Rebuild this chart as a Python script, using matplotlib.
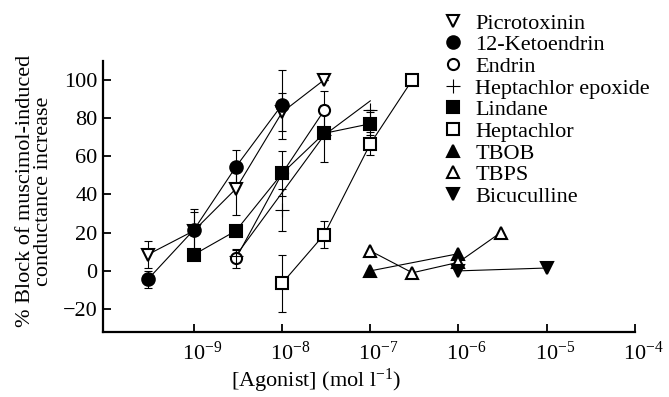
import matplotlib
matplotlib.use("Agg")
import matplotlib.pyplot as plt
import matplotlib.transforms as mtransforms
from matplotlib.ticker import FixedLocator, LogFormatterMathtext

plt.rcParams['font.family'] = ['Liberation Serif', 'DejaVu Serif']
plt.rcParams['mathtext.fontset'] = 'custom'
plt.rcParams['mathtext.rm'] = 'Liberation Serif'
plt.rcParams['mathtext.it'] = 'Liberation Serif:italic'
plt.rcParams['mathtext.bf'] = 'Liberation Serif:bold'

# ---- data (concentration in mol l-1, % block) ----
picro_x = [3e-10, 1e-9, 3e-9, 1e-8, 3e-8]
picro_y = [8.5, 21, 43, 83, 100]
picro_err = [7, 10, 14, 10, 0]

keto_x = [3e-10, 1e-9, 3e-9, 1e-8]
keto_y = [-4.5, 21.5, 54.5, 87]
keto_err = [4.5, 11, 9, 18]

endrin_x = [3e-9, 1e-8, 3e-8]
endrin_y = [6.5, 51, 84]
endrin_err = [5, 0, 10]

hepo_x = [3e-9, 1e-8, 3e-8, 1e-7]
hepo_y = [8, 32, 71, 84]
hepo_err = [3, 11, 0, 0]
hepo_line_x = [3e-9, 3e-8, 1e-7]
hepo_line_y = [8, 71, 89]

lindane_x = [1e-9, 3e-9, 1e-8, 3e-8, 1e-7]
lindane_y = [8.5, 21, 51, 72, 77]
lindane_err = [0, 0, 12, 15, 6]

hept_x = [1e-8, 3e-8, 1e-7, 3e-7]
hept_y = [-6.5, 19, 66.5, 100]
hept_err = [15, 7, 6, 0]

tbob_x = [1e-7, 1e-6]
tbob_y = [0, 9]

tbps_x = [1e-7, 3e-7, 1e-6, 3e-6]
tbps_y = [10.5, -1, 4.5, 20]

bic_x = [1e-6, 1e-5]
bic_y = [0, 1.5]

x_ticks = [1e-9, 1e-8, 1e-7, 1e-6, 1e-5, 1e-4]
y_ticks = [-20, 0, 20, 40, 60, 80, 100]

# ---- figure ----
fig = plt.figure(figsize=(6.69, 3.97), dpi=100)
ax = fig.add_axes([0.154, 0.1637, 0.795, 0.6833])

series = [
    ("Picrotoxinin", picro_x, picro_y, picro_err, 'v', 'white', 9),
    ("12-Ketoendrin", keto_x, keto_y, keto_err, 'o', 'black', 9),
    ("Endrin", endrin_x, endrin_y, endrin_err, 'o', 'white', 8),
    ("Heptachlor epoxide", hepo_x, hepo_y, hepo_err, '+', 'black', 10),
    ("Lindane", lindane_x, lindane_y, lindane_err, 's', 'black', 8.5),
    ("Heptachlor", hept_x, hept_y, hept_err, 's', 'white', 8.5),
    ("TBOB", tbob_x, tbob_y, None, '^', 'black', 9),
    ("TBPS", tbps_x, tbps_y, None, '^', 'white', 9),
    ("Bicuculline", bic_x, bic_y, None, 'v', 'black', 9),
]

lw = 0.8
for name, x, y, err, m, fc, ms in series:
    if name == "Heptachlor epoxide":
        ax.plot(hepo_line_x, hepo_line_y, '-', color='black', lw=lw, zorder=2)
    else:
        ax.plot(x, y, '-', color='black', lw=lw, zorder=2)
    if err is not None:
        ax.errorbar(x, y, yerr=err, fmt='none', ecolor='black', elinewidth=0.8,
                    capsize=3, capthick=0.8, zorder=2.5)

for name, x, y, err, m, fc, ms in series:
    ax.plot(x, y, linestyle='none', marker=m, markersize=ms,
            markerfacecolor=fc, markeredgecolor='black',
            markeredgewidth=1.5 if m != '+' else 0.8, label=name, zorder=3)

ax.set_xscale('log')
ax.set_xlim(10 ** -10.03, 1e-4)
ax.set_ylim(-32, 110)
ax.xaxis.set_major_locator(FixedLocator(x_ticks))
ax.xaxis.set_minor_locator(FixedLocator([]))
ax.xaxis.set_major_formatter(LogFormatterMathtext())
ax.set_yticks(y_ticks)

for s in ['top', 'right']:
    ax.spines[s].set_visible(False)
for s in ['left', 'bottom']:
    ax.spines[s].set_linewidth(1.6)

ax.tick_params(axis='both', direction='in', length=6, width=1.3,
               labelsize=16, pad=4)
ax.tick_params(axis='x', pad=7)

offset = mtransforms.ScaledTranslation(8 / 100, 0, fig.dpi_scale_trans)
for lab in ax.get_xticklabels():
    lab.set_transform(lab.get_transform() + offset)

ax.set_xlabel('[Agonist] (mol l$^{-1}$)', fontsize=16)
ax.xaxis.set_label_coords(0.40, -0.128)
ax.set_ylabel('% Block of muscimol-induced\nconductance increase',
              fontsize=16, linespacing=0.95)
ax.yaxis.set_label_coords(-0.094, 0.52)

leg = fig.legend(loc='upper left', bbox_to_anchor=(444 / 669, 1 - 13 / 397),
                 frameon=False, fontsize=16, handlelength=0.8,
                 handletextpad=0.6, labelspacing=0.05, borderpad=0,
                 borderaxespad=0, numpoints=1)

fig.savefig('out.png', dpi=100)
